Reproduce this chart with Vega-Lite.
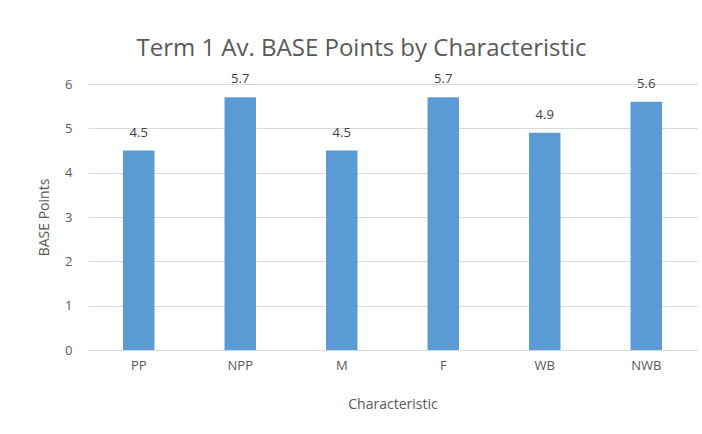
{
  "$schema": "https://vega.github.io/schema/vega-lite/v6.json",
  "width": 609,
  "height": 266,
  "autosize": {"type": "none"},
  "padding": {"left": 88, "top": 84, "right": 5, "bottom": 84},
  "background": "white",
  "title": {
    "text": "Term 1 Av. BASE Points by Characteristic",
    "font": "Open Sans",
    "fontSize": 24,
    "fontWeight": "normal",
    "color": "#595959",
    "anchor": "middle",
    "dx": -31,
    "offset": 12
  },
  "config": {
    "view": {"stroke": null},
    "font": "Open Sans"
  },
  "data": {
    "values": [
      {"Characteristic": "PP", "BASE Points": 4.5},
      {"Characteristic": "NPP", "BASE Points": 5.7},
      {"Characteristic": "M", "BASE Points": 4.5},
      {"Characteristic": "F", "BASE Points": 5.7},
      {"Characteristic": "WB", "BASE Points": 4.9},
      {"Characteristic": "NWB", "BASE Points": 5.6}
    ]
  },
  "encoding": {
    "x": {
      "field": "Characteristic",
      "type": "nominal",
      "sort": null,
      "scale": {"paddingInner": 0.69, "paddingOuter": 0.345},
      "axis": {
        "labelAngle": 0,
        "labelFont": "Open Sans",
        "labelFontSize": 13,
        "labelColor": "#595959",
        "labelPadding": 9,
        "ticks": false,
        "domainColor": "#D9D9D9",
        "domainWidth": 1,
        "titleFont": "Open Sans",
        "titleFontSize": 14,
        "titleFontWeight": "normal",
        "titleColor": "#595959",
        "titlePadding": 25
      }
    },
    "y": {
      "field": "BASE Points",
      "type": "quantitative",
      "scale": {"domain": [0, 6], "nice": false},
      "axis": {
        "values": [0, 1, 2, 3, 4, 5, 6],
        "grid": true,
        "gridColor": "#D9D9D9",
        "domain": false,
        "ticks": false,
        "labelFont": "Open Sans",
        "labelFontSize": 13,
        "labelColor": "#595959",
        "labelPadding": 16,
        "titleFont": "Open Sans",
        "titleFontSize": 14,
        "titleFontWeight": "normal",
        "titleColor": "#595959",
        "titlePadding": 13
      }
    }
  },
  "layer": [
    {"mark": {"type": "bar", "color": "#5B9BD5"}},
    {
      "mark": {"type": "text", "baseline": "bottom", "dy": -11, "font": "Open Sans", "fontSize": 13, "color": "#404040"},
      "encoding": {"text": {"field": "BASE Points", "type": "quantitative", "format": ".1f"}}
    }
  ]
}
